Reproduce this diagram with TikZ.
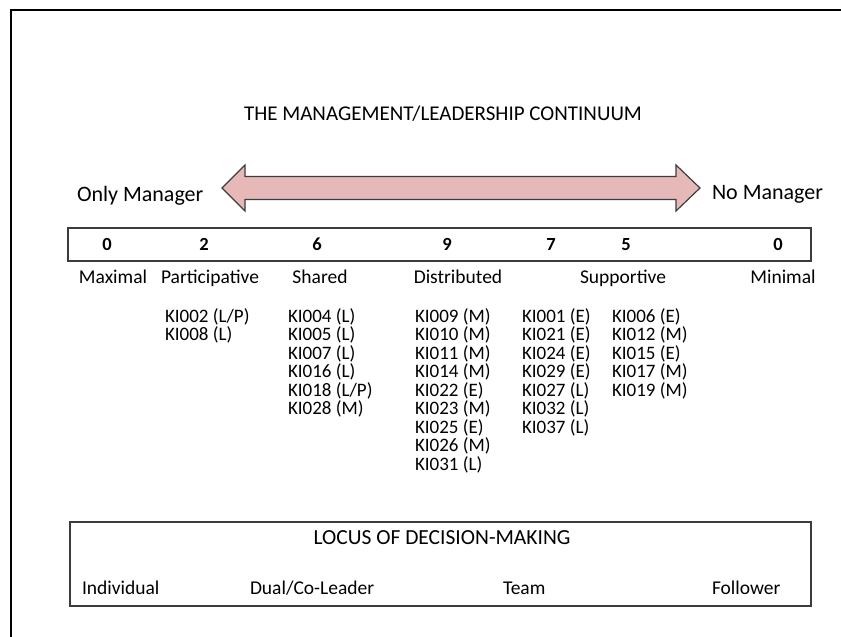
\documentclass[tikz,border=0pt]{standalone}
\usepackage{fontspec}
\setmainfont{Carlito}
\definecolor{arrowfill}{HTML}{E6B9B8}
\definecolor{edgegray}{HTML}{3C3C3C}
\begin{document}
\begin{tikzpicture}[x=1pt,y=-1pt,
  every node/.style={inner sep=0pt,outer sep=0pt},
  heading/.style={font=\fontsize{21}{23}\selectfont,anchor=base},
  endlabel/.style={font=\fontsize{22}{24}\selectfont,anchor=base west},
  score/.style={font=\fontsize{18.5}{20}\selectfont\bfseries,anchor=base},
  style label/.style={font=\fontsize{19.5}{21}\selectfont,anchor=base},
  kitem/.style={font=\fontsize{19}{18.5}\selectfont,anchor=base west},
  locus/.style={font=\fontsize{19.5}{21}\selectfont,anchor=base west},
  panel/.style={draw=edgegray,line width=1.5pt},
  bigarrow/.style={fill=arrowfill,draw=edgegray,line width=1.2pt,line join=miter}]
\useasboundingbox (0,0) rectangle (841,637);

% page frame (top and left edges only)
\draw[line width=2pt] (11,637) -- (11,9.5) -- (841,9.5);

% title
\node[heading] (title) at (443,120) {THE MANAGEMENT/LEADERSHIP CONTINUUM};

% double-headed continuum arrow
\draw[bigarrow] (222,188) -- (245,165) -- (245,176.5) -- (676,176.5) -- (676,165)
  -- (700,188) -- (676,211) -- (676,199.5) -- (245,199.5) -- (245,211) -- cycle;
\node[endlabel] (only) at (77,201) {Only Manager};
\node[endlabel] (none) at (712,199) {No Manager};

% score strip
\node[panel,minimum width=743,minimum height=33] (strip) at (439.5,244.5) {};
\foreach \n/\x/\v in {s1/107/0,s2/204/2,s3/317/6,s4/447/9,s5/551/7,s6/626/5,s7/778/0}
  \node[score] (\n) at (\x,250) {\v};

% style labels under the strip
\foreach \n/\x/\t in {maximal/113/Maximal,particip/210/Participative,shared/320/Shared,
  distrib/458/Distributed,support/623/Supportive,minimal/783/Minimal}
  \node[style label] (\n) at (\x,283) {\t};

% interview codes per style
\foreach \t [count=\i from 0] in {KI002 (L/P),KI008 (L)}
  \node[kitem] (p\i) at (165,322+18.5*\i) {\t};
\foreach \t [count=\i from 0] in {KI004 (L),KI005 (L),KI007 (L),KI016 (L),KI018 (L/P),KI028 (M)}
  \node[kitem] (sh\i) at (288,322+18.5*\i) {\t};
\foreach \t [count=\i from 0] in {KI009 (M),KI010 (M),KI011 (M),KI014 (M),KI022 (E),KI023 (M),KI025 (E),KI026 (M),KI031 (L)}
  \node[kitem] (d\i) at (415,322+18.5*\i) {\t};
\foreach \t [count=\i from 0] in {KI001 (E),KI021 (E),KI024 (E),KI029 (E),KI027 (L),KI032 (L),KI037 (L)}
  \node[kitem] (sa\i) at (522,322+18.5*\i) {\t};
\foreach \t [count=\i from 0] in {KI006 (E),KI012 (M),KI015 (E),KI017 (M),KI019 (M)}
  \node[kitem] (sb\i) at (612,322+18.5*\i) {\t};

% locus of decision-making panel
\node[panel,minimum width=741,minimum height=84] (locusbox) at (440.5,564) {};
\node[heading,font=\fontsize{21.5}{23}\selectfont] (locustitle) at (442,544) {LOCUS OF DECISION-MAKING};
\node[locus] (indiv) at (82,594) {Individual};
\node[locus] (dual) at (250,594) {Dual/Co-Leader};
\node[locus] (team) at (503,594) {Team};
\node[locus] (follow) at (712,594) {Follower};
\end{tikzpicture}
\end{document}
